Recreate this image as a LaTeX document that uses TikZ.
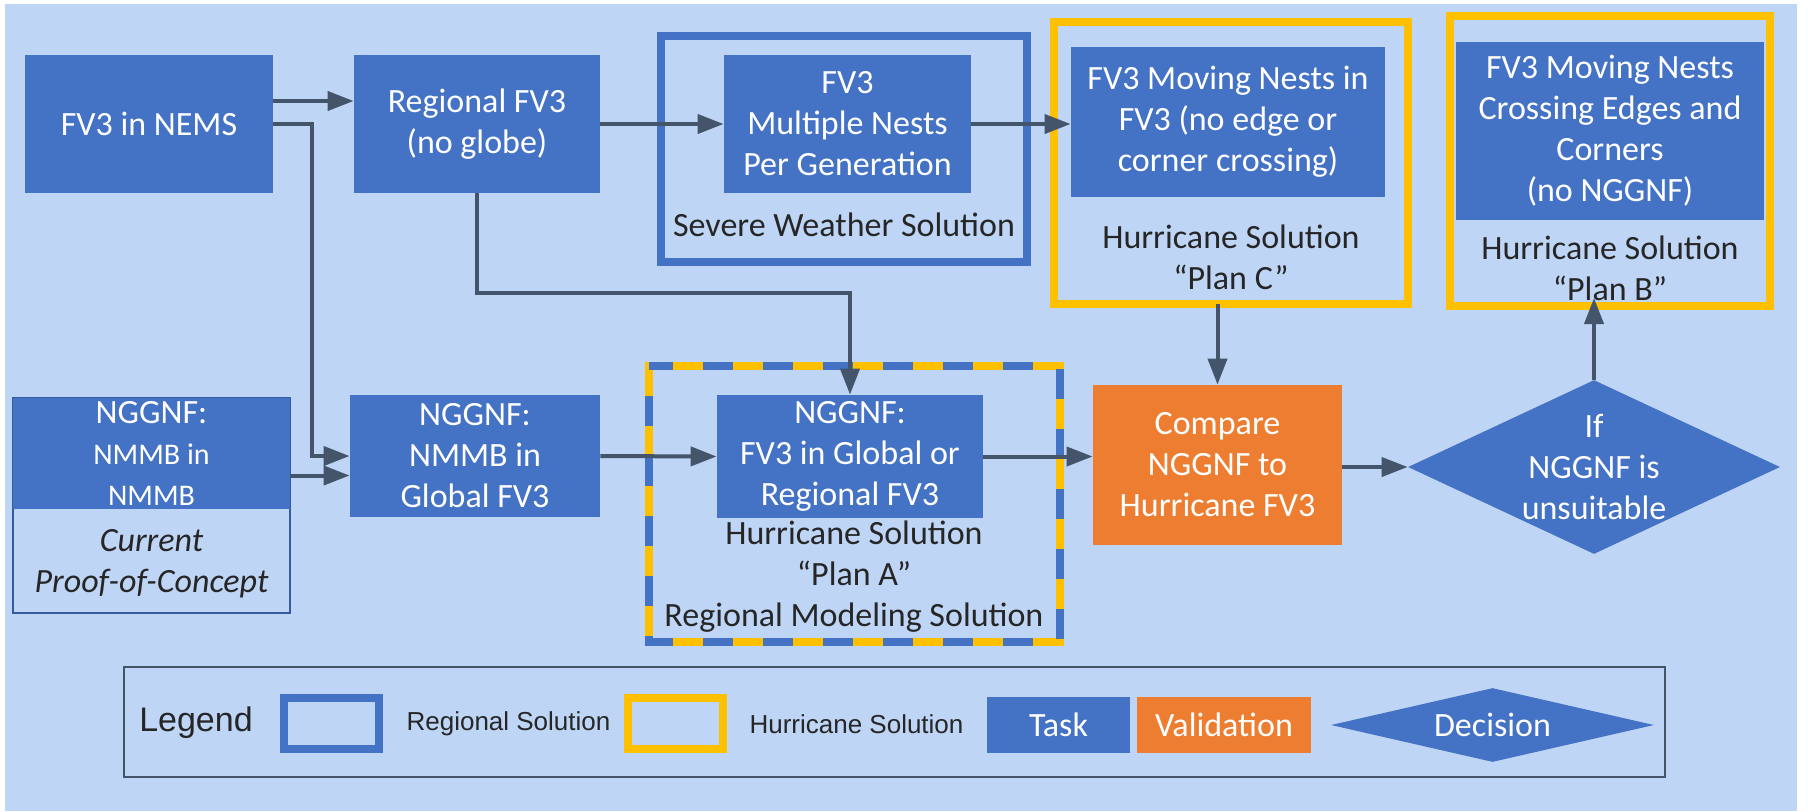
\documentclass[tikz,border=0pt]{standalone}
\usepackage{fontspec}
\setmainfont{Carlito}
\newfontfamily\legendfont{Liberation Sans}
\usetikzlibrary{positioning,shapes.geometric,arrows.meta,fit,calc}
\definecolor{bgblue}{HTML}{BED5F5}
\definecolor{taskblue}{HTML}{4472C4}
\definecolor{valorange}{HTML}{ED7D31}
\definecolor{hurryellow}{HTML}{FFC000}
\definecolor{linkgray}{HTML}{44546A}
\definecolor{captext}{HTML}{262626}

\begin{document}
\begin{tikzpicture}[x=0.5pt, y=-0.5pt,
		>={Triangle[length=13pt,width=9.5pt]},
		Task/.style={
			fill=taskblue,
			text=white,
			align=center,
			inner sep=0pt,
			font=\fontsize{17}{20.5}\selectfont
		},
		Valid/.style={Task, fill=valorange},
		Decide/.style={Task, diamond, aspect=2.14, inner sep=-3pt},
		Caption/.style={text=captext, align=center, font=\fontsize{17}{20.5}\selectfont},
		RegFrame/.style={draw=taskblue, line width=4pt, inner sep=0pt, outer sep=0pt},
		HurFrame/.style={draw=hurryellow, line width=4pt, inner sep=0pt, outer sep=0pt},
		Link/.style={->, draw=linkgray, line width=2pt}
	]
	\fill[bgblue] (5,4) rectangle (1797,811);
	\useasboundingbox (0,0) rectangle (1808,811);

	% solution frames
	\node[RegFrame, minimum width=183pt, minimum height=113pt] (severe) at (844,149) {};
	\node[HurFrame, minimum width=177pt, minimum height=141pt] (planC) at (1231,163) {};
	\node[HurFrame, minimum width=160pt, minimum height=145pt] (planB) at (1610,161) {};
	\node[HurFrame, minimum width=205.5pt, minimum height=138pt] (planA) at (854.5,504) {};
	\draw[taskblue, line width=4pt, dash pattern=on 15pt off 15pt, dash phase=15pt] (planA.north west) rectangle (planA.south east);
	\node[draw=taskblue!80!black, line width=0.8pt, inner sep=0pt, minimum width=138.5pt, minimum height=107.5pt] (poc) at (151.5,505.5) {};

	% tasks
	\node[Task, minimum width=124pt, minimum height=69pt] (nems) at (149,124) {FV3 in NEMS};
	\node[Task, minimum width=123pt, minimum height=69pt] (regional) at (477,124) {Regional FV3\\(no globe)};
	\node[Task, minimum width=123.5pt, minimum height=69pt] (multi) at (847.5,124) {FV3\\Multiple Nests\\Per Generation};
	\node[Task, minimum width=157pt, minimum height=75pt] (moving) at (1228,122) {FV3 Moving Nests in\\FV3 (no edge or\\corner crossing)};
	\node[Task, minimum width=154pt, minimum height=89pt] (crossing) at (1610,131) {FV3 Moving Nests\\Crossing Edges and\\Corners\\(no NGGNF)};
	\node[Task, minimum width=138.5pt, minimum height=55.5pt] (nmmb) at (151.5,453.5) {NGGNF:\\{\fontsize{15}{18}\selectfont NMMB in}\\{\fontsize{15}{18}\selectfont NMMB}};
	\node[Task, minimum width=125pt, minimum height=61pt] (nmmbglobal) at (475,456) {NGGNF:\\NMMB in\\Global FV3};
	\node[Task, minimum width=133pt, minimum height=61.5pt] (fv3global) at (850,456.5) {NGGNF:\\FV3 in Global or\\Regional FV3};
	\node[Valid, minimum width=124.5pt, minimum height=80pt] (compare) at (1217.5,465) {Compare\\NGGNF to\\Hurricane FV3};
	\node[Decide, minimum width=186pt, minimum height=87pt] (decision) at (1594,467) {If\\NGGNF is\\unsuitable};

	% captions
	\node[Caption] (severecap) at (844,225) {Severe Weather Solution};
	\node[Caption] (planCcap) at (1231,257) {Hurricane Solution\\“Plan C”};
	\node[Caption] (planBcap) at (1610,268) {Hurricane Solution\\“Plan B”};
	\node[Caption] (planAcap) at (854,577) {Hurricane Solution\\“Plan A”\\Regional Modeling Solution};
	\node[Caption, font=\fontsize{17}{20.5}\selectfont\itshape] (poccap) at (151.5,564) {Current\\Proof-of-Concept};

	% links
	\draw[Link] ([yshift=11.5pt]nems.east) -- ([yshift=11.5pt]regional.west);
	\draw[Link] (nems.east) -- ++(39,0) |- (nmmbglobal.west);
	\draw[Link] ([yshift=-11pt]nmmb.east) -- ([yshift=-11pt]nmmb.east -| nmmbglobal.west);
	\draw[Link] (regional.east) -- (multi.west);
	\draw[Link] (multi.east) -- (multi.east -| moving.west);
	\draw[Link] (regional.south) -- ++(0,100) -| (fv3global.north);
	\draw[Link] (compare.north |- planC.south) -- (compare.north);
	\draw[Link] (nmmbglobal.east) -- (fv3global.west);
	\draw[Link] (fv3global.east) -- (fv3global.east -| compare.west);
	\draw[Link] (compare.east |- decision.west) -- (decision.west);
	\draw[Link, shorten >=-4pt] (decision.north) -- (decision.north |- planB.south);

	% legend
	\node[draw=linkgray, line width=0.8pt, inner sep=0pt, minimum width=770.5pt, minimum height=55pt] (legend) at (894.5,722) {};
	\node[text=captext, font=\legendfont\fontsize{17}{20}\selectfont] (legendtitle) at (196,723) {Legend};
	\node[RegFrame, minimum width=47.5pt, minimum height=25.5pt] (keyreg) at (331.5,723.5) {};
	\node[text=captext, font=\legendfont\fontsize{13}{15}\selectfont] (keyregtxt) at (508.5,724) {Regional Solution};
	\node[HurFrame, minimum width=47.5pt, minimum height=25.5pt] (keyhur) at (675.5,723.5) {};
	\node[text=captext, font=\legendfont\fontsize{13}{15}\selectfont] (keyhurtxt) at (856.5,724) {Hurricane Solution};
	\node[Task, minimum width=71.5pt, minimum height=28pt] (keytask) at (1058.5,725) {Task};
	\node[Valid, minimum width=87pt, minimum height=28pt] (keyvalid) at (1224,725) {Validation};
	\node[Task, diamond, aspect=4.4, inner sep=1pt, minimum width=161.5pt, minimum height=37pt] (keydecision) at (1492.5,725) {Decision};
\end{tikzpicture}
\end{document}
